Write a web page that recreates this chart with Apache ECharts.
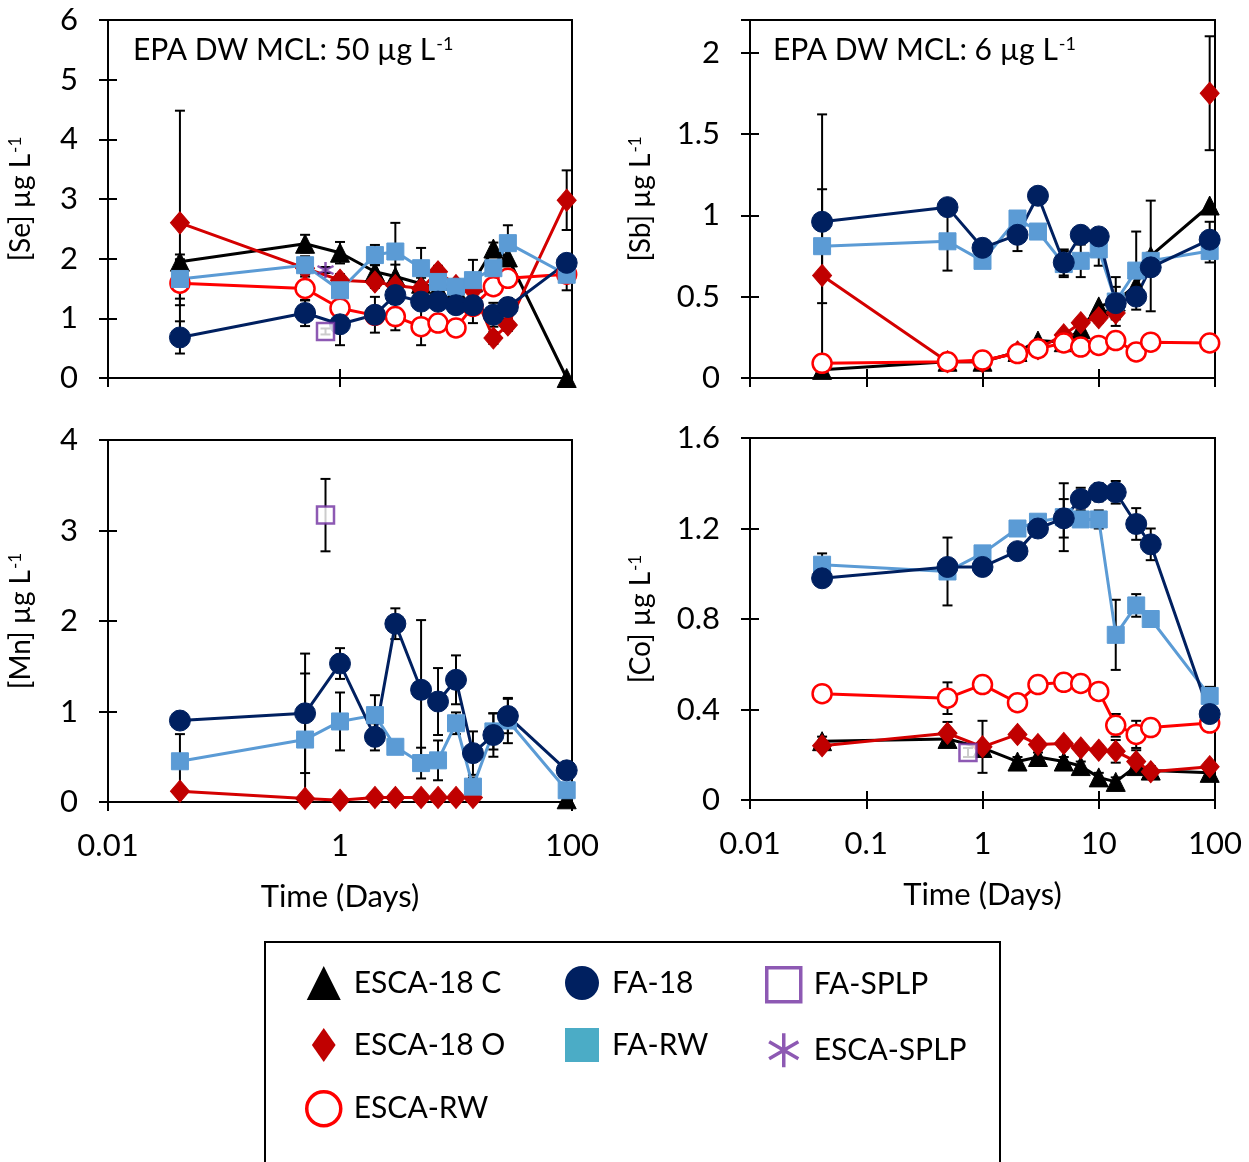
<!DOCTYPE html>
<html>
<head>
<meta charset="utf-8">
<script src="https://cdn.jsdelivr.net/npm/echarts@6/dist/echarts.min.js"></script>
<style>
html,body{margin:0;padding:0;background:#fff}
#chart{width:1249px;height:1162px}
</style>
</head>
<body>
<div id="chart"></div>
<script>
// Sampling times (days) shared by all leachate series
const TIME = [0.0417, 0.5, 1, 2, 3, 5, 7, 10, 14, 21, 28, 90];
// SPLP extraction time (days)
const SPLP_TIME = [0.75];

// ---- Selenium (µg/L) ----
const SE_ESCA18C     = [1.95, 2.25, 2.1, 1.78, 1.70, 1.58, 1.5, 1.48, 1.6, 2.17, 2.02, 0];
const SE_ESCA18C_ERR = [0.12, 0.15, 0.18, 0.12, 0.2, 0.1, 0.1, 0.1, 0.1, 0.1, null, null];
const SE_ESCA18O     = [2.6, 1.84, 1.64, 1.61, 1.55, 1.5, 1.78, 1.55, 1.47, 0.67, 0.89, 2.98];
const SE_ESCA18O_ERR = [1.88, 0.1, 0.1, 0.1, 0.1, 0.1, 0.1, 0.1, 0.1, 0.1, 0.1, 0.5];
const SE_ESCARW      = [1.59, 1.5, 1.17, 1.05, 1.03, 0.86, 0.92, 0.84, 1.2, 1.53, 1.67, 1.74];
const SE_ESCARW_ERR  = [0.37, 0.2, 0.1, 0.1, 0.23, 0.31, 0.1, 0.12, 0.1, 0.12, 0.1, 0.27];
const SE_FARW        = [1.66, 1.89, 1.47, 2.06, 2.12, 1.84, 1.61, 1.53, 1.64, 1.84, 2.26, 1.73];
const SE_FARW_ERR    = [0.33, 0.15, 0.15, 0.17, 0.48, 0.34, 0.1, 0.1, 0.34, 0.1, 0.3, 0.1];
const SE_FA18        = [0.68, 1.09, 0.9, 1.06, 1.39, 1.28, 1.28, 1.22, 1.22, 1.06, 1.19, 1.93];
const SE_FA18_ERR    = [0.27, 0.22, 0.35, 0.3, 0.15, 0.1, 0.1, 0.1, 0.3, 0.2, 0.15, 0.1];
const SE_FASPLP      = [0.78];
const SE_FASPLP_ERR  = [0.05];
const SE_ESCASPLP    = [1.81];
const SE_ESCASPLP_ERR = [0.05];

// ---- Antimony (µg/L) ----
const SB_ESCA18C     = [0.05, 0.1, 0.1, 0.16, 0.23, 0.22, 0.3, 0.44, 0.47, 0.57, 0.75, 1.06];
const SB_ESCA18C_ERR = [null, null, null, null, null, null, null, null, null, null, 0.34, null];
const SB_ESCA18O     = [0.63, 0.1, 0.1, 0.16, 0.18, 0.265, 0.34, 0.37, 0.4, null, null, 1.75];
const SB_ESCA18O_ERR = [0.99, 0.05, 0.03, 0.02, 0.02, 0.02, 0.02, 0.03, 0.03, null, null, 0.35];
const SB_ESCARW      = [0.09, 0.1, 0.11, 0.15, 0.18, 0.215, 0.19, 0.2, 0.23, 0.16, 0.22, 0.215];
const SB_ESCARW_ERR  = [0.02, 0.02, 0.02, 0.02, 0.02, 0.02, 0.02, 0.02, 0.02, 0.02, 0.02, 0.02];
const SB_FARW        = [0.81, 0.84, 0.72, 0.98, 0.9, 0.7, 0.72, 0.79, 0.47, 0.66, 0.72, 0.78];
const SB_FARW_ERR    = [0.35, 0.18, 0.03, 0.03, 0.03, 0.08, 0.1, 0.1, 0.15, 0.24, 0.05, 0.07];
const SB_FA18        = [0.96, 1.05, 0.8, 0.88, 1.12, 0.71, 0.88, 0.87, 0.46, 0.5, 0.68, 0.85];
const SB_FA18_ERR    = [null, null, 0.03, 0.1, 0.03, 0.08, 0.03, 0.03, 0.1, 0.05, 0.05, 0.11];

// ---- Manganese (µg/L) ----
const MN_ESCA18C     = [null, null, null, null, null, null, null, null, null, null, null, 0.03];
const MN_ESCA18O     = [0.12, 0.04, 0.02, 0.05, 0.05, 0.05, 0.05, 0.05, 0.05, null, null, null];
const MN_FARW        = [0.45, 0.69, 0.89, 0.96, 0.61, 0.43, 0.46, 0.87, 0.17, 0.78, 0.9, 0.13];
const MN_FARW_ERR    = [0.3, 0.73, 0.32, 0.22, null, 0.17, 0.22, 0.12, 0.1, 0.2, 0.25, null];
const MN_FA18        = [0.9, 0.98, 1.53, 0.72, 1.97, 1.24, 1.11, 1.35, 0.54, 0.74, 0.95, 0.35];
const MN_FA18_ERR    = [null, 0.66, 0.17, 0.15, 0.17, 0.77, 0.37, 0.27, 0.24, 0.24, 0.19, null];
const MN_FASPLP      = [3.17];
const MN_FASPLP_ERR  = [0.4];

// ---- Cobalt (µg/L) ----
const CO_ESCA18C     = [0.26, 0.27, 0.23, 0.17, 0.19, 0.17, 0.15, 0.1, 0.08, 0.15, 0.13, 0.12];
const CO_ESCA18C_ERR = [0.02, 0.02, null, 0.02, 0.02, 0.02, 0.02, 0.02, 0.02, 0.02, 0.02, 0.02];
const CO_ESCA18O     = [0.24, 0.295, 0.235, 0.29, 0.245, 0.25, 0.23, 0.22, 0.215, 0.17, 0.125, 0.147];
const CO_ESCA18O_ERR = [null, 0.05, 0.115, 0.02, 0.02, 0.02, 0.02, 0.02, 0.05, 0.05, 0.02, 0.02];
const CO_ESCARW      = [0.47, 0.45, 0.51, 0.43, 0.51, 0.52, 0.515, 0.48, 0.33, 0.29, 0.32, 0.34];
const CO_ESCARW_ERR  = [0.03, 0.07, 0.02, 0.03, 0.03, 0.02, 0.02, null, 0.05, 0.06, null, null];
const CO_FARW        = [1.04, 1.01, 1.09, 1.2, 1.23, 1.25, 1.24, 1.24, 0.73, 0.86, 0.8, 0.46];
const CO_FARW_ERR    = [0.05, 0.15, null, null, 0.03, 0.15, null, 0.04, 0.155, 0.05, null, 0.04];
const CO_FA18        = [0.98, 1.03, 1.03, 1.10, 1.2, 1.245, 1.33, 1.36, 1.36, 1.22, 1.13, 0.38];
const CO_FA18_ERR    = [null, null, null, null, null, 0.085, 0.05, 0.04, 0.05, 0.07, 0.07, null];
const CO_FASPLP      = [0.21];
const CO_FASPLP_ERR  = [0.02];

// Axis tick label text
const Y_TICKS_SE = ['0', '1', '2', '3', '4', '5', '6'];
const Y_TICKS_SB = ['0', '0.5', '1', '1.5', '2'];
const Y_TICKS_MN = ['0', '1', '2', '3', '4'];
const Y_TICKS_CO = ['0', '0.4', '0.8', '1.2', '1.6'];
const X_TICKS    = ['0.01', '0.1', '1', '10', '100'];

// ---------------- styling ----------------
const FONT = 'Lato';
const ASTERISK = 'path://M5,0 L5,10 M0.7,2.5 L9.3,7.5 M0.7,7.5 L9.3,2.5';
const TALL_DIAMOND = 'path://M14,0 L28,20 L14,40 L0,20 Z';

const STYLE = {
  'ESCA-18 C': { symbol: 'triangle', size: 19, color: '#000000', line: '#000000' },
  'ESCA-18 O': { symbol: 'diamond',  size: [19, 22], color: '#c00000', line: '#d40000' },
  'ESCA-RW':   { symbol: 'circle',   size: 19, color: '#ffffff', border: '#ff0000', line: '#ff0000' },
  'FA-RW':     { symbol: 'rect',     size: 17, color: '#5b9bd5', line: '#5b9bd5' },
  'FA-18':     { symbol: 'circle',   size: 21, color: '#002060', line: '#002060' },
  'FA-SPLP':   { symbol: 'rect',     size: 17, color: '#ffffff', border: '#7030a0' },
  'ESCA-SPLP': { symbol: ASTERISK,   size: 16, color: 'rgba(0,0,0,0)', border: '#7030a0' }
};

const PANELS = [
  { grid: { left: 108, top: 20, width: 464, height: 358 }, logBase: 100, ymax: 6, yint: 1, yTicks: Y_TICKS_SE,
    yName: '[Se]', nameGap: 73, xLabels: false, mcl: 'EPA DW MCL: 50 µg L', mclPos: [133, 35],
    lines: [['ESCA-18 C', SE_ESCA18C, SE_ESCA18C_ERR], ['ESCA-18 O', SE_ESCA18O, SE_ESCA18O_ERR],
            ['ESCA-RW', SE_ESCARW, SE_ESCARW_ERR], ['FA-RW', SE_FARW, SE_FARW_ERR], ['FA-18', SE_FA18, SE_FA18_ERR]],
    points: [['FA-SPLP', SE_FASPLP, SE_FASPLP_ERR], ['ESCA-SPLP', SE_ESCASPLP, SE_ESCASPLP_ERR]] },
  { grid: { left: 750, top: 20, width: 465, height: 358 }, logBase: 10, ymax: 2.2, yint: 0.5, yTicks: Y_TICKS_SB,
    yName: '[Sb]', nameGap: 95, xLabels: false, mcl: 'EPA DW MCL: 6 µg L', mclPos: [773, 35],
    lines: [['ESCA-18 C', SB_ESCA18C, SB_ESCA18C_ERR], ['ESCA-18 O', SB_ESCA18O, SB_ESCA18O_ERR],
            ['ESCA-RW', SB_ESCARW, SB_ESCARW_ERR], ['FA-RW', SB_FARW, SB_FARW_ERR], ['FA-18', SB_FA18, SB_FA18_ERR]],
    points: [] },
  { grid: { left: 108, top: 440, width: 464, height: 362 }, logBase: 100, ymax: 4, yint: 1, yTicks: Y_TICKS_MN,
    yName: '[Mn]', nameGap: 73, xLabels: true,
    lines: [['ESCA-18 C', MN_ESCA18C, null], ['ESCA-18 O', MN_ESCA18O, null],
            ['FA-RW', MN_FARW, MN_FARW_ERR], ['FA-18', MN_FA18, MN_FA18_ERR]],
    points: [['FA-SPLP', MN_FASPLP, MN_FASPLP_ERR]] },
  { grid: { left: 750, top: 438, width: 465, height: 362 }, logBase: 10, ymax: 1.6, yint: 0.4, yTicks: Y_TICKS_CO,
    yName: '[Co]', nameGap: 95, xLabels: true,
    lines: [['ESCA-18 C', CO_ESCA18C, CO_ESCA18C_ERR], ['ESCA-18 O', CO_ESCA18O, CO_ESCA18O_ERR],
            ['ESCA-RW', CO_ESCARW, CO_ESCARW_ERR], ['FA-RW', CO_FARW, CO_FARW_ERR], ['FA-18', CO_FA18, CO_FA18_ERR]],
    points: [['FA-SPLP', CO_FASPLP, CO_FASPLP_ERR]] }
];

const SUP_RICH = (size) => ({
  a: { fontFamily: FONT, fontSize: size, fontWeight: 'normal', color: '#000' },
  s: { fontFamily: FONT, fontSize: Math.round(size * 0.6), fontWeight: 'normal', color: '#000', verticalAlign: 'top', padding: [0, 0, 0, 1] }
});

function fmtTick(v) {
  const s = String(+(+v).toPrecision(3));
  return X_TICKS.indexOf(s) >= 0 ? s : '';
}

// vertical error bar with caps
function renderError(params, api) {
  const x = api.value(0), y = api.value(1), e = api.value(2);
  const p1 = api.coord([x, y + e]);
  const p2 = api.coord([x, y - e]);
  const hw = 5;
  const st = { stroke: '#000', lineWidth: 2, fill: null };
  return {
    type: 'group',
    children: [
      { type: 'line', shape: { x1: p1[0], y1: p1[1], x2: p2[0], y2: p2[1] }, style: st },
      { type: 'line', shape: { x1: p1[0] - hw, y1: p1[1], x2: p1[0] + hw, y2: p1[1] }, style: st },
      { type: 'line', shape: { x1: p2[0] - hw, y1: p2[1], x2: p2[0] + hw, y2: p2[1] }, style: st }
    ]
  };
}

const grids = [], xAxes = [], yAxes = [], series = [], titles = [];

PANELS.forEach((p, i) => {
  grids.push(Object.assign({ show: true, borderColor: '#000', borderWidth: 2, backgroundColor: 'transparent' }, p.grid));

  const axisLine = { show: true, lineStyle: { color: '#000', width: 2 } };
  const tickStyle = { color: '#000', width: 2 };
  const xBase = { type: 'log', logBase: p.logBase, min: 0.01, max: 100, gridIndex: i, position: 'bottom', splitLine: { show: false }, minorTick: { show: false } };
  xAxes.push(Object.assign({}, xBase, {
    axisLine: axisLine,
    axisTick: { show: true, length: 9, lineStyle: tickStyle },
    axisLabel: { show: p.xLabels, margin: 28, fontFamily: FONT, fontSize: 31, color: '#000', formatter: fmtTick },
    name: p.xLabels ? 'Time (Days)' : '', nameLocation: 'middle', nameGap: 79,
    nameTextStyle: { fontFamily: FONT, fontSize: 31, color: '#000' }
  }));
  xAxes.push(Object.assign({}, xBase, {
    axisLine: { show: false }, axisLabel: { show: false },
    axisTick: { show: true, inside: true, length: 9, lineStyle: tickStyle }
  }));

  const yBase = { type: 'value', min: 0, max: p.ymax, interval: p.yint, gridIndex: i, position: 'left', splitLine: { show: false } };
  yAxes.push(Object.assign({}, yBase, {
    axisLine: axisLine,
    axisTick: { show: true, length: 9, lineStyle: tickStyle },
    axisLabel: { margin: 30, fontFamily: FONT, fontSize: 31, color: '#000',
      formatter: (v) => { const s = String(+(+v).toFixed(2)); return p.yTicks.indexOf(s) >= 0 ? s : ''; } },
    name: '{a|' + p.yName + ' µg L}{s|-1}', nameLocation: 'middle', nameGap: p.nameGap, nameRotate: 90,
    nameTextStyle: { rich: SUP_RICH(28) }
  }));
  yAxes.push(Object.assign({}, yBase, {
    axisLine: { show: false }, axisLabel: { show: false },
    axisTick: { show: true, inside: true, length: 9, lineStyle: tickStyle }
  }));

  const xi = i * 2, yi = i * 2;

  p.lines.forEach(([name, vals, errs]) => {
    const s = STYLE[name];
    series.push({
      name: name, type: 'line', xAxisIndex: xi, yAxisIndex: yi,
      data: TIME.map((t, k) => [t, vals[k]]),
      symbol: s.symbol, symbolSize: s.size, showAllSymbol: true,
      lineStyle: { color: s.line, width: 3 },
      itemStyle: { color: s.color, borderColor: s.border || s.color, borderWidth: s.border ? 2.5 : 1 },
      emphasis: { disabled: true }, animation: false, clip: true
    });
    if (errs) {
      const ed = [];
      TIME.forEach((t, k) => { if (errs[k] != null && vals[k] != null) ed.push([t, vals[k], errs[k]]); });
      series.push({ type: 'custom', xAxisIndex: xi, yAxisIndex: yi, renderItem: renderError, data: ed, clip: true, silent: true, animation: false, z: 3 });
    }
  });

  p.points.forEach(([name, vals, errs]) => {
    const s = STYLE[name];
    series.push({
      name: name, type: 'scatter', xAxisIndex: xi, yAxisIndex: yi,
      data: SPLP_TIME.map((t, k) => [t, vals[k]]),
      symbol: s.symbol, symbolSize: s.size,
      itemStyle: { color: s.color, borderColor: s.border, borderWidth: 2.5 },
      emphasis: { disabled: true }, animation: false, z: 4
    });
    series.push({ type: 'custom', xAxisIndex: xi, yAxisIndex: yi, renderItem: renderError,
      data: SPLP_TIME.map((t, k) => [t, vals[k], errs[k]]), clip: true, silent: true, animation: false, z: 3 });
  });

  if (p.mcl) {
    titles.push({ text: '{a|' + p.mcl + '}{s|-1}', left: p.mclPos[0], top: p.mclPos[1], padding: 0,
      textStyle: { fontWeight: 'normal', rich: SUP_RICH(30) } });
  }
});

const LEG_TEXT = { fontFamily: FONT, fontSize: 30, color: '#000', padding: [0, 0, 0, 8] };
const legBase = { orient: 'vertical', itemWidth: 34, itemHeight: 34, itemGap: 28, padding: 0, selectedMode: false, textStyle: LEG_TEXT };
const legends = [
  Object.assign({}, legBase, { left: 305, top: 966, data: [
    { name: 'ESCA-18 C', icon: 'triangle', itemStyle: { color: '#000', borderWidth: 0 } },
    { name: 'ESCA-18 O', icon: TALL_DIAMOND, itemStyle: { color: '#c00000', borderWidth: 0 } },
    { name: 'ESCA-RW', icon: 'circle', itemStyle: { color: '#fff', borderColor: '#ff0000', borderWidth: 3.5 } } ] }),
  Object.assign({}, legBase, { left: 565, top: 966, data: [
    { name: 'FA-18', icon: 'circle', itemStyle: { color: '#002060', borderWidth: 0 } },
    { name: 'FA-RW', icon: 'rect', itemStyle: { color: '#4bacc6', borderWidth: 0 } } ] }),
  Object.assign({}, legBase, { left: 765, top: 966, data: [
    { name: 'FA-SPLP', icon: 'rect', itemStyle: { color: '#fff', borderColor: '#7030a0', borderWidth: 3.5 } },
    { name: 'ESCA-SPLP', icon: ASTERISK, itemStyle: { color: 'rgba(0,0,0,0)', borderColor: '#7030a0', borderWidth: 3.5 } } ] })
];

const chart = echarts.init(document.getElementById('chart'), null, { renderer: 'canvas' });
chart.setOption({
  backgroundColor: '#fff',
  animation: false,
  title: titles,
  grid: grids,
  xAxis: xAxes,
  yAxis: yAxes,
  legend: legends,
  series: series,
  graphic: [{ type: 'rect', shape: { x: 265, y: 942, width: 735, height: 240 }, style: { fill: null, stroke: '#000', lineWidth: 2 }, silent: true }]
});
</script>
</body>
</html>
